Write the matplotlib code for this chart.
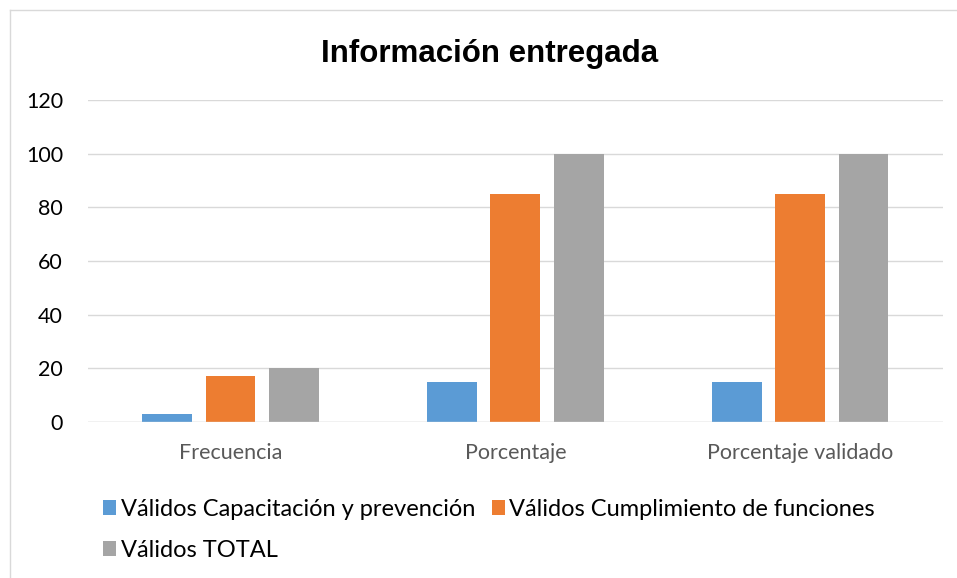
import matplotlib
matplotlib.use("Agg")
from matplotlib import pyplot as plt
from matplotlib.lines import Line2D
import numpy as np

categories = ["Frecuencia", "Porcentaje", "Porcentaje validado"]
series_names = ["Válidos Capacitación y prevención",
                "Válidos Cumplimiento de funciones",
                "Válidos TOTAL"]
capacitacion = [3, 15, 15]
cumplimiento = [17, 85, 85]
total = [20, 100, 100]
colors = ["#5B9BD5", "#ED7D31", "#A5A5A5"]

fig = plt.figure(figsize=(9.57, 5.78), dpi=100)
ax = fig.add_axes([0.092, 0.27, 0.893, 0.557])

x = np.arange(len(categories))
width = 0.175
step = 0.222
handles = []
for i, (vals, name) in enumerate(zip([capacitacion, cumplimiento, total], series_names)):
    b = ax.bar(x + (i - 1) * step, vals, width, color=colors[i], label=name, zorder=3)
    handles.append(b)

ax.set_xlim(-0.5, 2.5)
ax.set_ylim(0, 120)
ax.set_yticks(range(0, 121, 20))
ax.set_xticks(x)
ax.set_xticklabels(categories, fontsize=15.5, color="#595959", family="Lato")
for lab in ax.get_yticklabels():
    lab.set_fontsize(15.5)
    lab.set_family("Lato")
    lab.set_color("#000000")
ax.tick_params(length=0, axis="both")
ax.tick_params(axis="y", pad=18)
ax.tick_params(axis="x", pad=15)
ax.grid(axis="y", color="#D9D9D9", linewidth=1, zorder=0)
for s in ax.spines.values():
    s.set_visible(False)
ax.axhline(0, color="#D9D9D9", linewidth=1, zorder=4)

fig.text(0.512, 0.907, "Información entregada", ha="center", va="center",
         fontsize=22.5, fontweight="bold", family="Liberation Sans")

# legend fills column-wise, so reorder to read row-wise
order = [0, 2, 1]
leg = fig.legend([handles[k] for k in order], [series_names[k] for k in order],
                 loc="upper left", bbox_to_anchor=(0.1076, 0.137), ncol=2,
                 frameon=False, prop={"family": "Lato", "size": 17},
                 handlelength=0.55, handleheight=0.55, handletextpad=0.2,
                 columnspacing=0.7, labelspacing=0.85, borderaxespad=0, borderpad=0)

# chart border
fig.add_artist(Line2D([10 / 957, 10 / 957], [0, 1 - 10 / 578], color="#D9D9D9", lw=1,
                      transform=fig.transFigure))
fig.add_artist(Line2D([10 / 957, 1], [1 - 10 / 578, 1 - 10 / 578], color="#D9D9D9", lw=1,
                      transform=fig.transFigure))

fig.savefig("out.png", dpi=100)
